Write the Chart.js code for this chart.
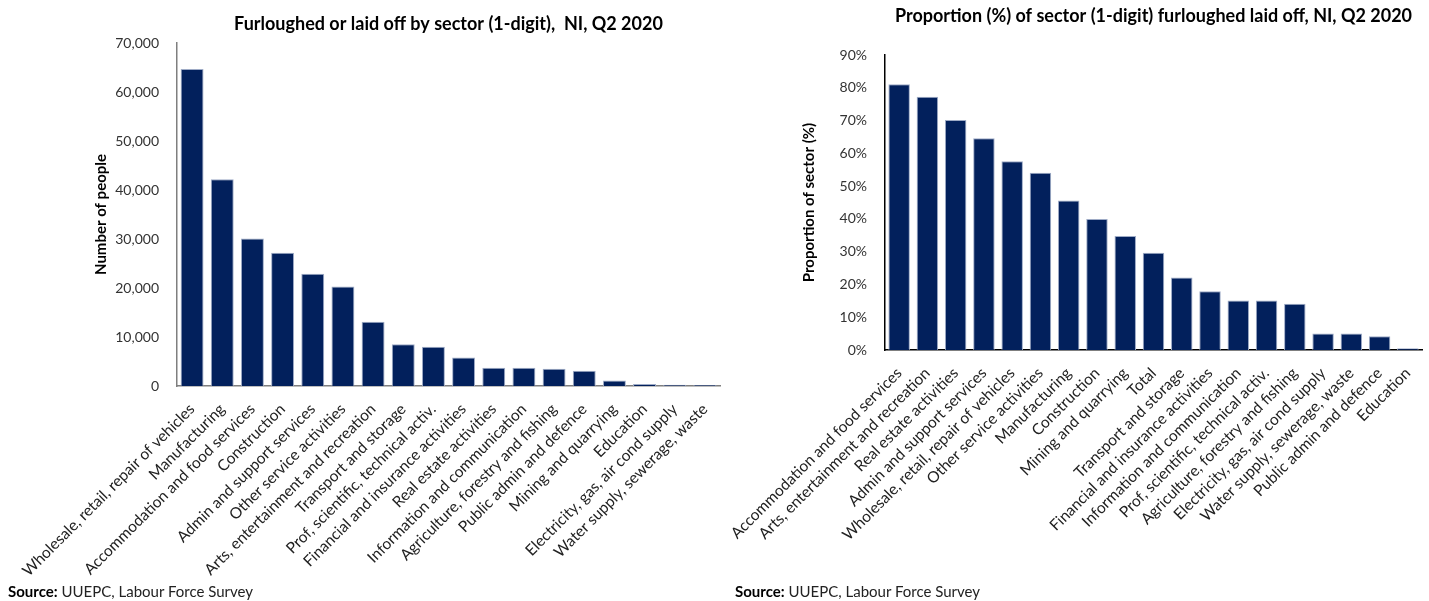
<!DOCTYPE html>
<html>
<head>
<meta charset="utf-8">
<script src="https://cdn.jsdelivr.net/npm/chart.js@4"></script>
<style>
  body { margin: 0; background: #fff; width: 1429px; height: 601px; position: relative; overflow: hidden; }
  .box { position: absolute; top: 0; height: 601px; }
  .source { position: absolute; top: 582px; font: 15px Lato, sans-serif; color: #222; }
  .source b { font-weight: bold; color: #000; }
</style>
</head>
<body>
<div class="box" style="left:0;width:725px"><canvas id="left"></canvas></div>
<div class="box" style="left:720px;width:709px"><canvas id="right"></canvas></div>
<div class="source" style="left:8px"><b>Source:</b> UUEPC, Labour Force Survey</div>
<div class="source" style="left:735px"><b>Source:</b> UUEPC, Labour Force Survey</div>
<script>
var sectorsByCount = [
  'Wholesale, retail, repair of vehicles', 'Manufacturing', 'Accommodation and food services',
  'Construction', 'Admin and support services', 'Other service activities',
  'Arts, entertainment and recreation', 'Transport and storage', 'Prof, scientific, technical activ.',
  'Financial and insurance activities', 'Real estate activities', 'Information and communication',
  'Agriculture, forestry and fishing', 'Public admin and defence', 'Mining and quarrying',
  'Education', 'Electricity, gas, air cond supply', 'Water supply, sewerage, waste'
];
var peopleCount = [64700, 42200, 30100, 27200, 22900, 20300, 13100, 8500, 8000, 5800,
  3700, 3700, 3500, 3100, 1100, 400, 250, 200];

var sectorsByShare = [
  'Accommodation and food services', 'Arts, entertainment and recreation', 'Real estate activities',
  'Admin and support services', 'Wholesale, retail, repair of vehicles', 'Other service activities',
  'Manufacturing', 'Construction', 'Mining and quarrying', 'Total', 'Transport and storage',
  'Financial and insurance activities', 'Information and communication',
  'Prof, scientific, technical activ.', 'Agriculture, forestry and fishing',
  'Electricity, gas, air cond supply', 'Water supply, sewerage, waste',
  'Public admin and defence', 'Education'
];
var shareOfSector = [81.1, 77.3, 70.2, 64.6, 57.6, 54.1, 45.6, 40.0, 34.8, 29.7, 22.1,
  17.9, 15.1, 15.1, 14.1, 5.0, 5.0, 4.2, 0.5];

var countTicks = [0, 10000, 20000, 30000, 40000, 50000, 60000, 70000];
var shareTicks = [0, 10, 20, 30, 40, 50, 60, 70, 80, 90];

Chart.defaults.font.family = 'Lato, sans-serif';
Chart.defaults.color = '#404040';
Chart.defaults.animation = false;

function printChart(id, opts) {
  var ctx = document.getElementById(id).getContext('2d');
  new Chart(ctx, {
    type: 'bar',
    data: {
      labels: opts.labels,
      datasets: [{
        data: opts.data,
        backgroundColor: '#02205c',
        borderColor: '#9eabc6',
        borderWidth: 1,
        categoryPercentage: 1,
        barPercentage: 0.76
      }]
    },
    options: {
      responsive: true,
      maintainAspectRatio: false,
      layout: { padding: opts.padding },
      plugins: {
        legend: { display: false },
        tooltip: { enabled: false },
        title: {
          display: true,
          fullSize: false,
          text: opts.title,
          color: '#000',
          font: { size: 18, weight: 'bold' },
          padding: opts.titlePadding
        }
      },
      scales: {
        x: {
          grid: { display: false },
          border: { display: true, color: opts.axisColor, width: 1.5 },
          ticks: {
            autoSkip: false,
            minRotation: 45,
            maxRotation: 45,
            padding: 6,
            color: '#222',
            font: { size: 15.5 }
          },
          afterFit: function(scale) { scale.height = opts.xHeight; }
        },
        y: {
          min: 0,
          max: opts.ticks[opts.ticks.length - 1],
          afterBuildTicks: function(scale) {
            scale.ticks = opts.ticks.map(function(v) { return { value: v }; });
          },
          grid: { display: false },
          border: { display: true, color: opts.axisColor, width: 1.5 },
          ticks: {
            padding: 10,
            color: '#333',
            font: { size: 14 },
            callback: opts.tickFormat
          },
          title: {
            display: true,
            text: opts.yTitle,
            color: '#000',
            font: { size: 15, weight: 'bold' },
            padding: { top: 4, bottom: 0 }
          },
          afterFit: function(scale) { scale.width = opts.yWidth; }
        }
      }
    }
  });
}

printChart('left', {
  labels: sectorsByCount,
  data: peopleCount,
  ticks: countTicks,
  title: 'Furloughed or laid off by sector (1-digit),  NI, Q2 2020',
  titlePadding: { top: 13, bottom: 8.4 },
  yTitle: 'Number of people',
  yWidth: 89,
  xHeight: 215,
  axisColor: '#7f7f7f',
  padding: { left: 88, right: 5, top: 0, bottom: 0 },
  tickFormat: function(v) { return v.toLocaleString('en-US'); }
});

printChart('right', {
  labels: sectorsByShare,
  data: shareOfSector,
  ticks: shareTicks,
  title: 'Proportion (%) of sector (1-digit) furloughed laid off, NI, Q2 2020',
  titlePadding: { top: 5.2, bottom: 28.2 },
  yTitle: 'Proportion of sector (%)',
  yWidth: 89,
  xHeight: 251,
  axisColor: '#000',
  padding: { left: 76, right: 7, top: 0, bottom: 0 },
  tickFormat: function(v) { return v + '%'; }
});
</script>
</body>
</html>
